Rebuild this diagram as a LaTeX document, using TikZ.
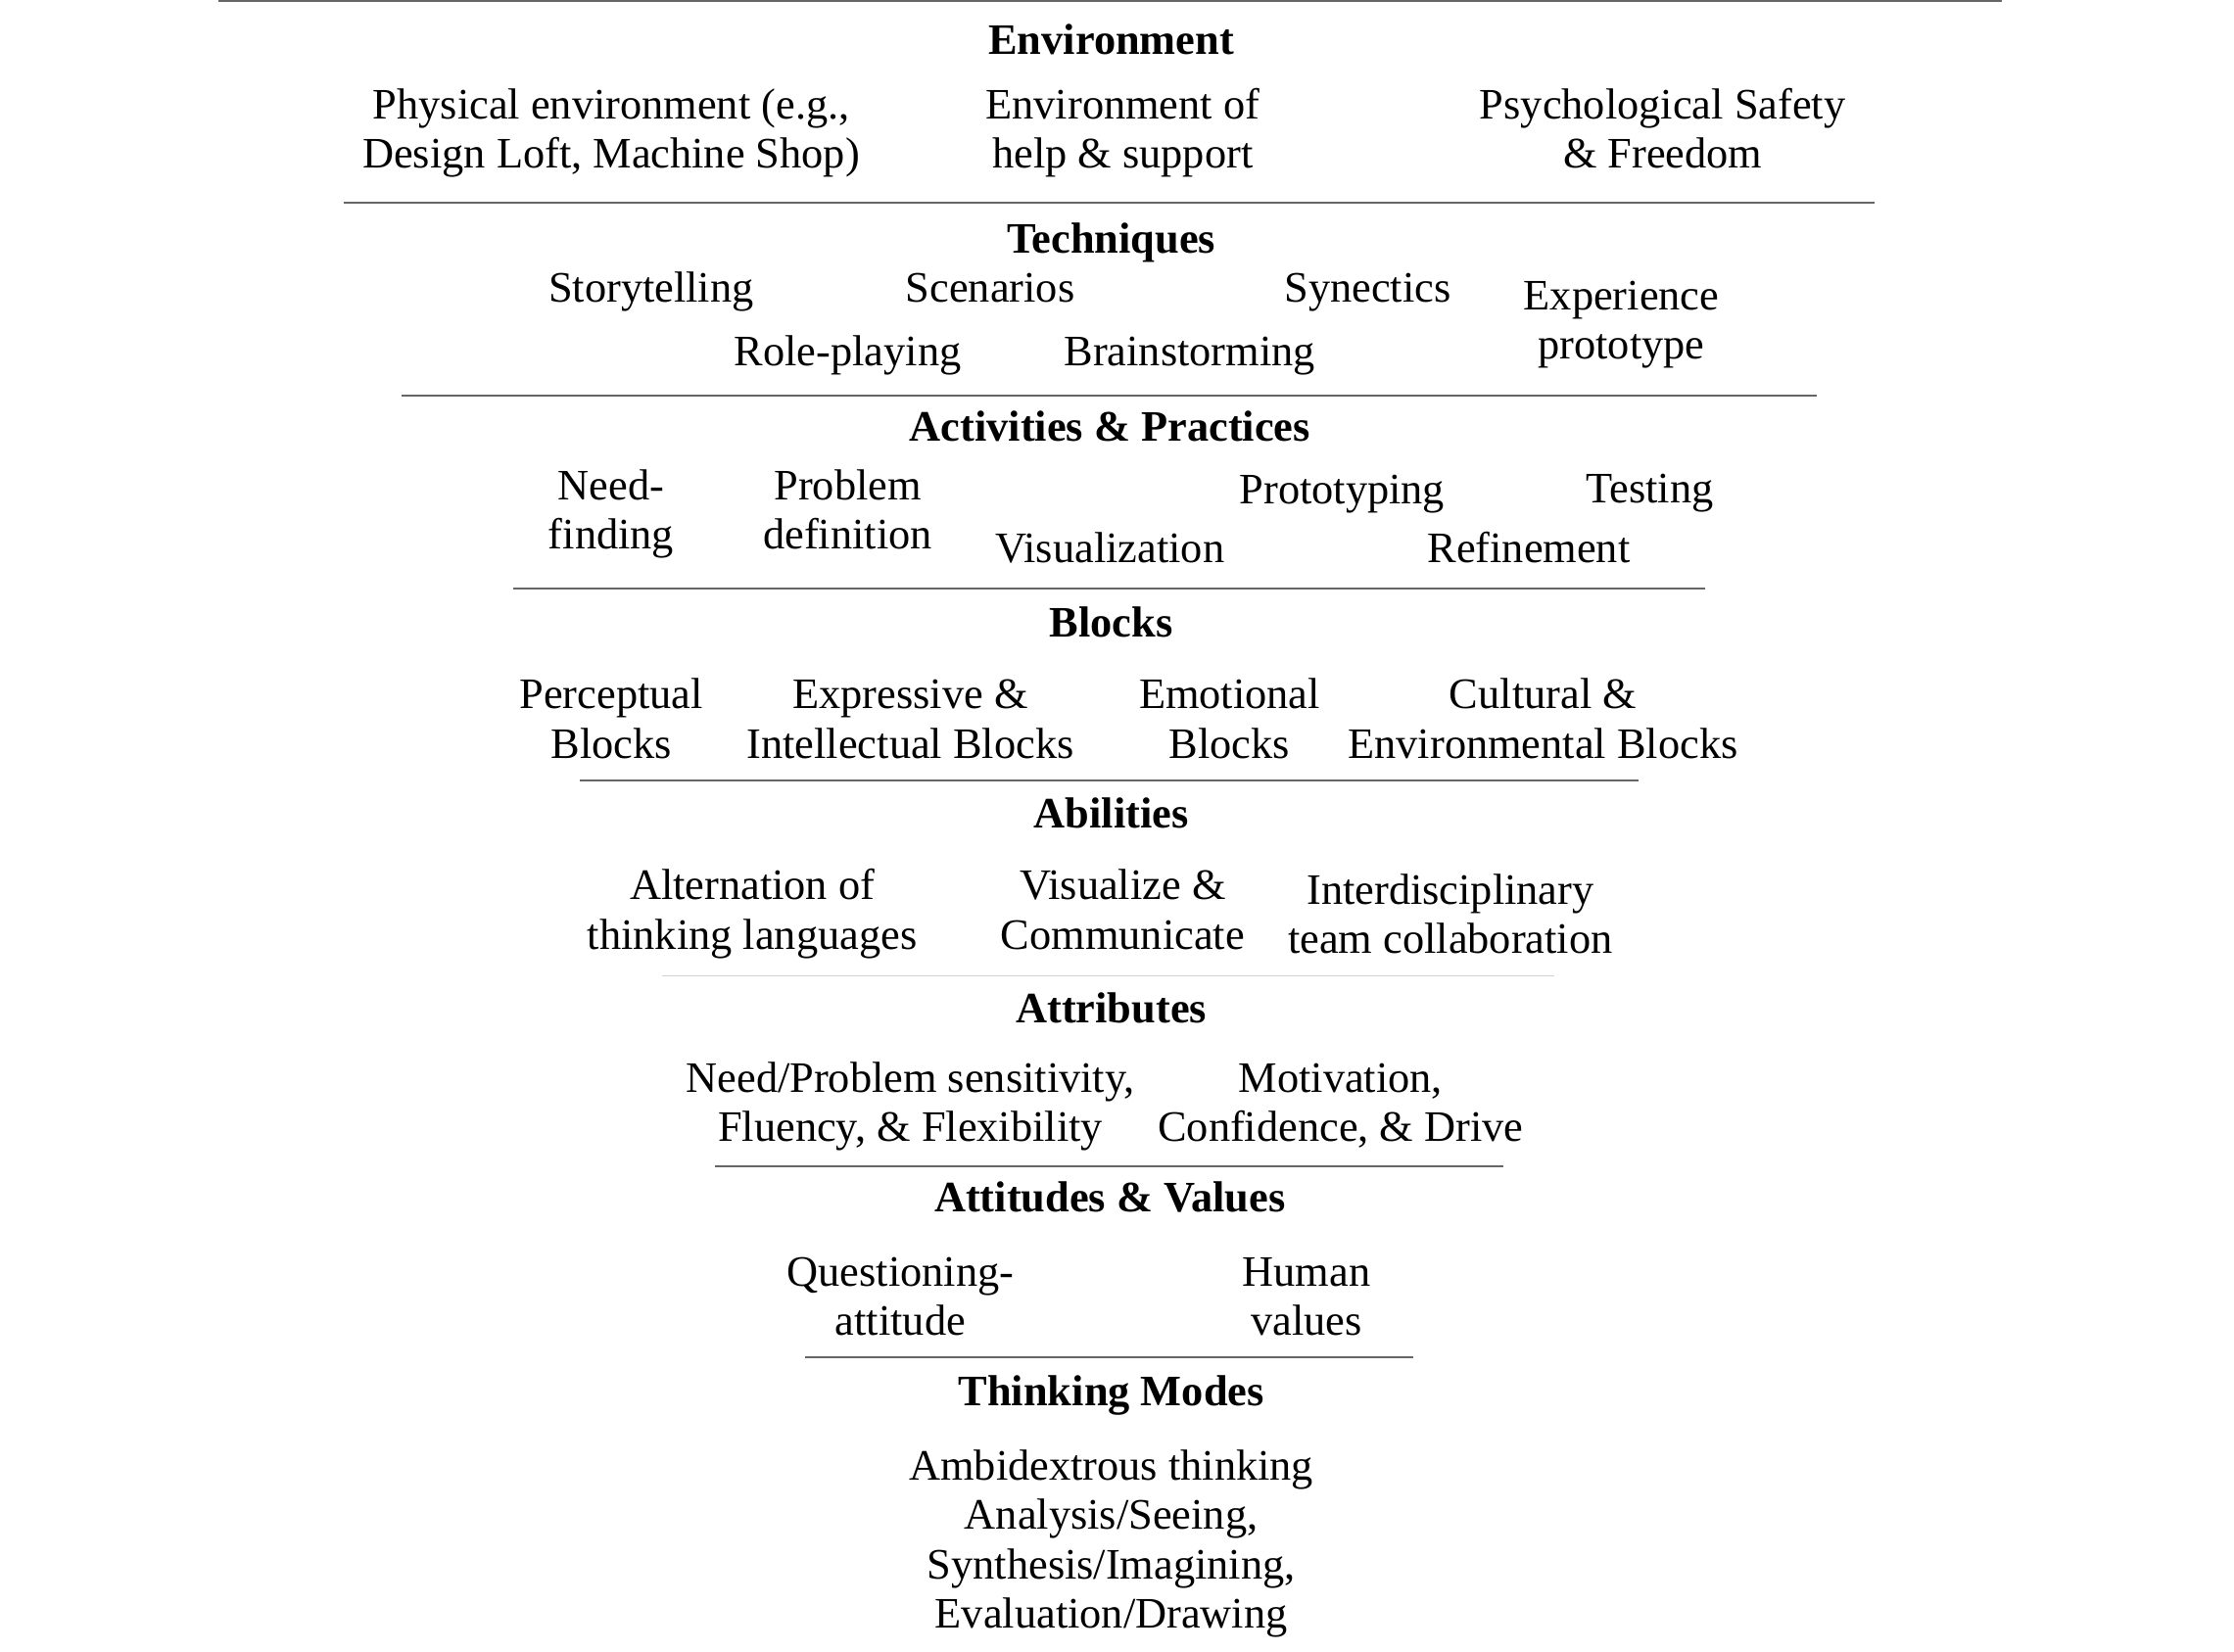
\documentclass[tikz,border=0pt]{standalone}
\usepackage{fontspec}
\setmainfont{Liberation Serif}
\newcommand{\lbfont}{\fontsize{30.5}{34.5}\selectfont}
\tikzset{
  lbl/.style={inner sep=0pt, outer sep=0pt, align=center, font=\lbfont},
  hdr/.style={lbl, font=\lbfont\bfseries},
  sep/.style={line width=1.3pt, draw=black!60},
  seplight/.style={line width=1.3pt, draw=black!18},
}
\newcommand{\ST}{\strut}
\begin{document}
\begin{tikzpicture}[x=1pt,y=-1pt]
\useasboundingbox (0,0) rectangle (1568,1159);
% separators
\coordinate (s0a) at (153,0.8);  \coordinate (s0b) at (1405,0.8);
\coordinate (s1a) at (241,142);  \coordinate (s1b) at (1316,142);
\coordinate (s2a) at (282,278);  \coordinate (s2b) at (1275,278);
\coordinate (s3a) at (360,413);  \coordinate (s3b) at (1197,413);
\coordinate (s4a) at (407,548);  \coordinate (s4b) at (1150,548);
\coordinate (s5a) at (465,685);  \coordinate (s5b) at (1091,685);
\coordinate (s6a) at (502,819);  \coordinate (s6b) at (1055,819);
\coordinate (s7a) at (565,953);  \coordinate (s7b) at (992,953);
\draw[sep] (s0a) -- (s0b);
\draw[sep] (s1a) -- (s1b);
\draw[sep] (s2a) -- (s2b);
\draw[sep] (s3a) -- (s3b);
\draw[sep] (s4a) -- (s4b);
\draw[seplight] (s5a) -- (s5b);
\draw[sep] (s6a) -- (s6b);
\draw[sep] (s7a) -- (s7b);
\begin{scope}[shift={(1,2)}]
% Environment
\node[hdr] (envh) at (779,29) {\ST Environment\ST};
\node[lbl] (phys) at (428,92) {\ST Physical environment (e.g.,\\Design Loft, Machine Shop)\ST};
\node[lbl] (help) at (787,92) {\ST Environment of\\help \& support\ST};
\node[lbl] (psy) at (1166,92) {\ST Psychological Safety\\\& Freedom\ST};
% Techniques
\node[hdr] (techh) at (779,169) {\ST Techniques\ST};
\node[lbl] (story) at (456,203) {\ST Storytelling\ST};
\node[lbl] (scen) at (694,203) {\ST Scenarios\ST};
\node[lbl] (syn) at (959,203) {\ST Synectics\ST};
\node[lbl] (exp) at (1137,226) {\ST Experience\\prototype\ST};
\node[lbl] (role) at (594,248) {\ST Role-playing\ST};
\node[lbl] (brain) at (834,248) {\ST Brainstorming\ST};
% Activities
\node[hdr] (acth) at (778,301) {\ST Activities \& Practices\ST};
\node[lbl] (need) at (428,359) {\ST Need-\\finding\ST};
\node[lbl] (prob) at (594,359) {\ST Problem\\definition\ST};
\node[lbl] (proto) at (941,345) {\ST Prototyping\ST};
\node[lbl] (test) at (1157,344) {\ST Testing\ST};
\node[lbl] (vis) at (778,386) {\ST Visualization\ST};
\node[lbl] (ref) at (1072,386) {\ST Refinement\ST};
% Blocks
\node[hdr] (blkh) at (779,438) {\ST Blocks\ST};
\node[lbl] (perc) at (428,506) {\ST Perceptual\\Blocks\ST};
\node[lbl] (expr) at (638,506) {\ST Expressive \&\\Intellectual Blocks\ST};
\node[lbl] (emo) at (862,506) {\ST Emotional\\Blocks\ST};
\node[lbl] (cult) at (1082,506) {\ST Cultural \&\\Environmental Blocks\ST};
% Abilities
\node[hdr] (abih) at (779,572) {\ST Abilities\ST};
\node[lbl] (alt) at (527,640) {\ST Alternation of\\thinking languages\ST};
\node[lbl] (viscom) at (787,640) {\ST Visualize \&\\Communicate\ST};
\node[lbl] (inter) at (1017,643) {\ST Interdisciplinary\\team collaboration\ST};
% Attributes
\node[hdr] (atth) at (779,709) {\ST Attributes\ST};
\node[lbl] (sens) at (638,775) {\ST Need/Problem sensitivity,\\Fluency, \& Flexibility\ST};
\node[lbl] (mot) at (940,775) {\ST Motivation,\\Confidence, \& Drive\ST};
% Attitudes
\node[hdr] (avh) at (778,842) {\ST Attitudes \& Values\ST};
\node[lbl] (quest) at (631,911) {\ST Questioning-\\attitude\ST};
\node[lbl] (hum) at (916,911) {\ST Human\\values\ST};
% Thinking modes
\node[hdr] (tmh) at (779,978) {\ST Thinking Modes\ST};
\node[lbl] (amb) at (779,1082) {\ST Ambidextrous thinking\\Analysis/Seeing,\\Synthesis/Imagining,\\Evaluation/Drawing\ST};
\end{scope}
\end{tikzpicture}
\end{document}
